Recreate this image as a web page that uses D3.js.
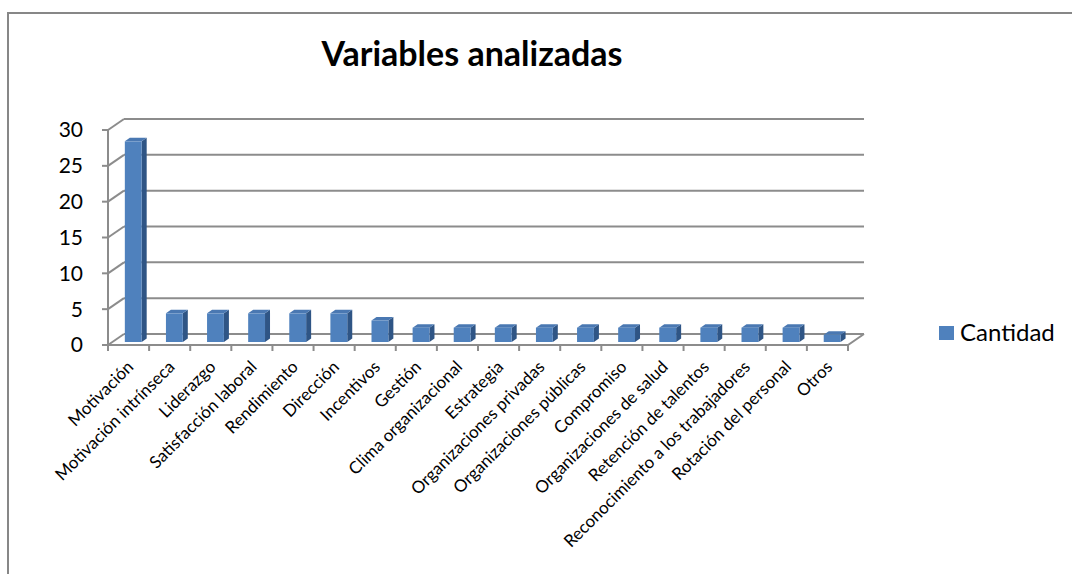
<!DOCTYPE html>
<html>
<head>
<meta charset="utf-8">
<script src="https://cdn.jsdelivr.net/npm/d3@7"></script>
<style>
  body { margin: 0; background: #fff; }
  text { font-family: Lato, "Open Sans", sans-serif; fill: #000; }
</style>
</head>
<body>
<div id="chart"></div>
<script>
var categories = ["Motivación", "Motivación intrínseca", "Liderazgo", "Satisfacción laboral",
  "Rendimiento", "Dirección", "Incentivos", "Gestión", "Clima organizacional", "Estrategia",
  "Organizaciones privadas", "Organizaciones públicas", "Compromiso", "Organizaciones de salud",
  "Retención de talentos", "Reconocimiento a los trabajadores", "Rotación del personal", "Otros"];
var cantidad = [28, 4, 4, 4, 4, 4, 3, 2, 2, 2, 2, 2, 2, 2, 2, 2, 2, 1];
var yTicks = [0, 5, 10, 15, 20, 25, 30];
var seriesName = "Cantidad";
var title = "Variables analizadas";

var width = 1072;
var height = 574;
var plotLeft = 108, plotRight = 848, plotTop = 130, plotBottom = 345;
var depthX = 16, depthY = -11;     // back wall offset
var barShiftX = 4.5, barShiftY = -3; // bar sits inside the depth
var barDX = 5, barDY = -3.5;       // bar thickness
var gridColor = "#8c8c8c";

var svg = d3.select("#chart").append("svg")
  .attr("width", width)
  .attr("height", height);

// outer frame
svg.append("rect")
  .attr("x", 8).attr("y", 13)
  .attr("width", 1080).attr("height", 600)
  .attr("fill", "none")
  .attr("stroke", "#878787")
  .attr("stroke-width", 2);

svg.append("text")
  .attr("x", 472).attr("y", 66)
  .attr("text-anchor", "middle")
  .style("font-size", "34px")
  .style("font-weight", "bold")
  .text(title);

var xScale = d3.scaleBand().domain(categories).range([plotLeft, plotRight]);
var yScale = d3.scaleLinear().domain([0, 30]).range([plotBottom, plotTop]);

// back wall gridlines and side wall diagonals
var grid = svg.append("g")
  .attr("stroke", gridColor)
  .attr("stroke-width", 2)
  .attr("fill", "none");

yTicks.forEach(function(t) {
  var yy = yScale(t);
  grid.append("line")
    .attr("x1", plotLeft + depthX).attr("y1", yy + depthY)
    .attr("x2", plotRight + depthX).attr("y2", yy + depthY);
  grid.append("line")
    .attr("x1", plotLeft).attr("y1", yy)
    .attr("x2", plotLeft + depthX).attr("y2", yy + depthY);
  grid.append("line")
    .attr("x1", plotLeft - 6).attr("y1", yy)
    .attr("x2", plotLeft).attr("y2", yy);
});

// floor
grid.append("path")
  .attr("d", "M" + plotLeft + "," + plotBottom + "L" + plotRight + "," + plotBottom +
    "L" + (plotRight + depthX) + "," + (plotBottom + depthY));
grid.append("line")
  .attr("x1", plotLeft).attr("y1", plotTop)
  .attr("x2", plotLeft).attr("y2", plotBottom);

// category ticks
var edges = categories.map(function(c) { return xScale(c); }).concat([plotRight]);
edges.forEach(function(e) {
  grid.append("line")
    .attr("x1", e).attr("y1", plotBottom)
    .attr("x2", e).attr("y2", plotBottom + 6);
});

// y labels
svg.append("g").selectAll("text")
  .data(yTicks)
  .join("text")
  .attr("x", 83)
  .attr("y", function(d) { return yScale(d); })
  .attr("dy", "0.35em")
  .attr("text-anchor", "end")
  .style("font-size", "21px")
  .text(function(d) { return d; });

// 3D bars
var bw = xScale.bandwidth() * 0.41;
var bars = svg.append("g").selectAll("g")
  .data(categories)
  .join("g");

function bx(c) { return xScale(c) + xScale.bandwidth() * 0.3 + barShiftX; }
function by(i) { return yScale(cantidad[i]) + barShiftY; }
var base = yScale(0) + barShiftY;

bars.append("path")
  .attr("fill", "#2f5585")
  .attr("d", function(c, i) {
    var x1 = bx(c) + bw, y1 = by(i);
    return "M" + x1 + "," + y1 + "L" + (x1 + barDX) + "," + (y1 + barDY) +
      "L" + (x1 + barDX) + "," + (base + barDY) + "L" + x1 + "," + base + "Z";
  });
bars.append("path")
  .attr("fill", "#4a78b2")
  .attr("d", function(c, i) {
    var x0 = bx(c), y1 = by(i);
    return "M" + x0 + "," + y1 + "L" + (x0 + barDX) + "," + (y1 + barDY) +
      "L" + (x0 + bw + barDX) + "," + (y1 + barDY) + "L" + (x0 + bw) + "," + y1 + "Z";
  });
bars.append("rect")
  .attr("fill", "#4f81bd")
  .attr("x", function(c) { return bx(c); })
  .attr("y", function(c, i) { return by(i); })
  .attr("width", bw)
  .attr("height", function(c, i) { return base - by(i); });

// category labels
svg.append("g").selectAll("text")
  .data(categories)
  .join("text")
  .attr("text-anchor", "end")
  .attr("transform", function(c) {
    var cx = xScale(c) + xScale.bandwidth() / 2 + 6;
    return "translate(" + cx + "," + (plotBottom + 23) + ") rotate(-45)";
  })
  .style("font-size", "17px")
  .text(function(c) { return c; });

// legend
svg.append("rect")
  .attr("x", 939).attr("y", 326)
  .attr("width", 15).attr("height", 14)
  .attr("fill", "#4f81bd");
svg.append("text")
  .attr("x", 960).attr("y", 333)
  .attr("dy", "0.35em")
  .style("font-size", "24px")
  .text(seriesName);
</script>
</body>
</html>
